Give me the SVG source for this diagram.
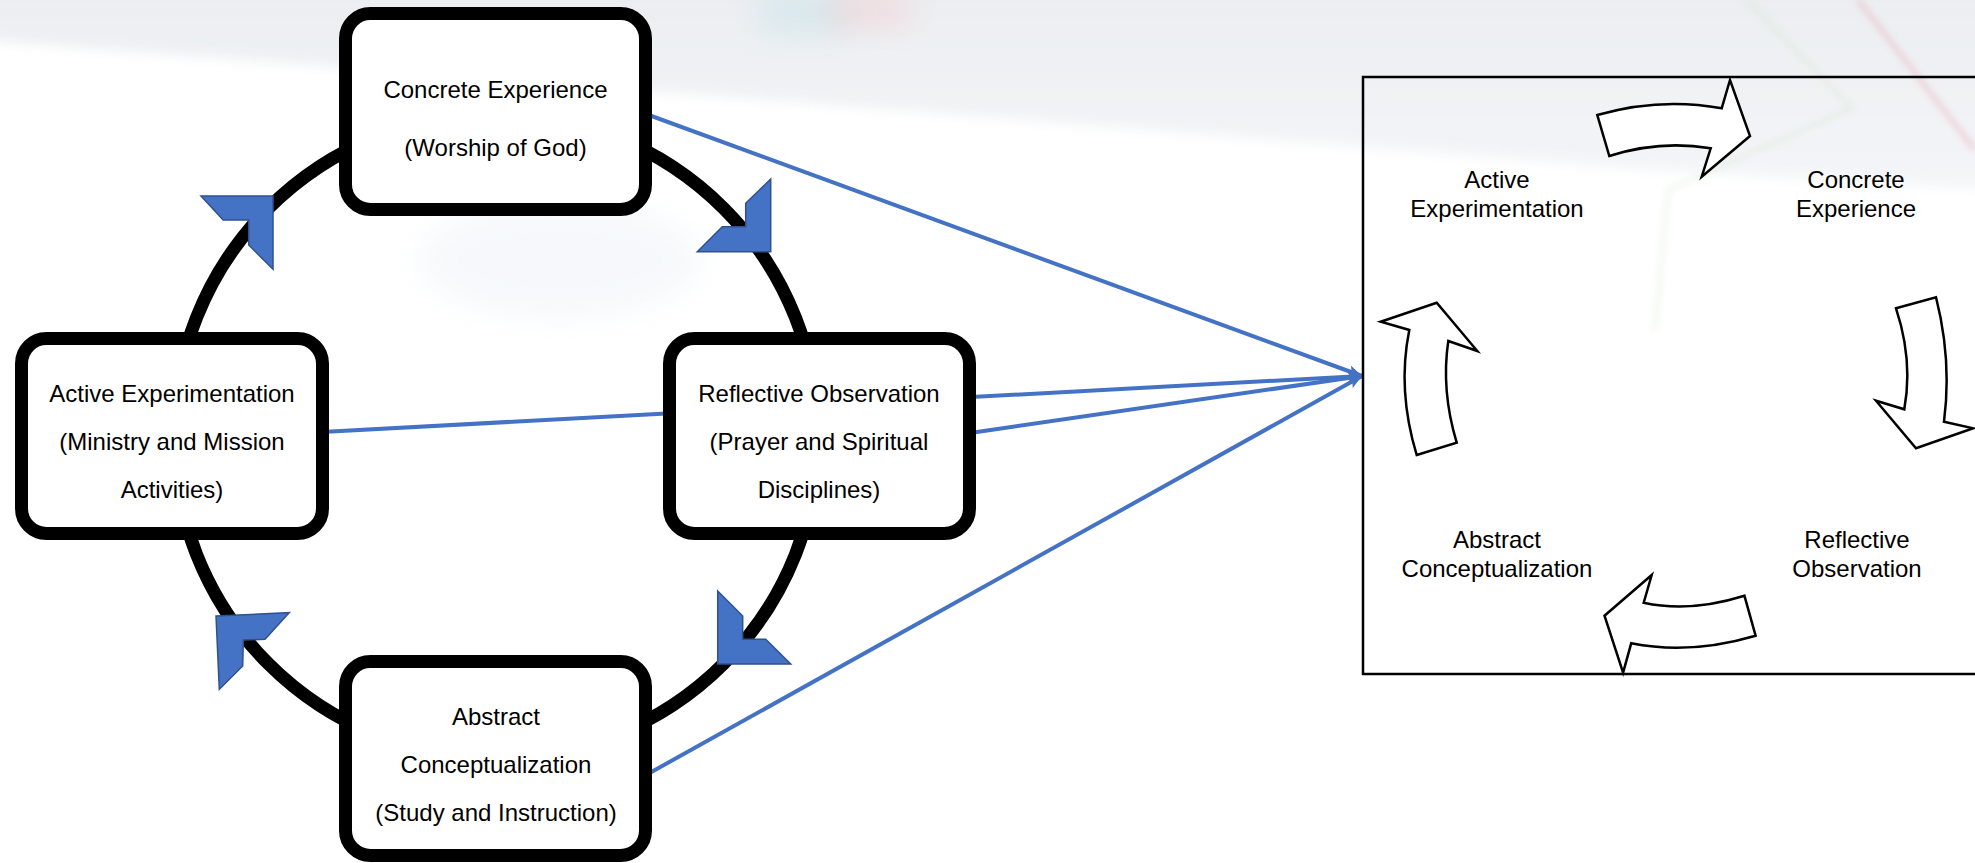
<svg xmlns="http://www.w3.org/2000/svg" width="1975" height="863" viewBox="0 0 1975 863">
  <defs>
    <style>
      .box { fill: #ffffff; stroke: #000000; stroke-width: 13; }
      .lbl { font-family: "Liberation Sans", Arial, sans-serif; font-size: 24px; fill: #000000; text-anchor: middle; }
      .ring { fill: none; stroke: #000000; stroke-width: 13; }
      .chev { fill: #4472C4; stroke: #2F528F; stroke-width: 1.5; stroke-linejoin: miter; }
      .conn { fill: none; stroke: #4472C4; stroke-width: 4; marker-end: url(#ah); }
      .blk { fill: #ffffff; stroke: #000000; stroke-width: 2.5; stroke-linejoin: miter; }
    </style>
    <marker id="ah" markerWidth="14" markerHeight="12" refX="14" refY="6" orient="auto" markerUnits="userSpaceOnUse">
      <path d="M0,0 L14,6 L0,12 L3,6 Z" fill="#4472C4"/>
    </marker>
    <linearGradient id="topg" x1="0" y1="0" x2="0" y2="1">
      <stop offset="0" stop-color="#e4e7ec"/>
      <stop offset="1" stop-color="#f1f3f6"/>
    </linearGradient>
    <filter id="blur" x="-50%" y="-50%" width="200%" height="200%">
      <feGaussianBlur stdDeviation="14"/>
    </filter>
    <filter id="soft" x="-10%" y="-50%" width="120%" height="200%">
      <feGaussianBlur stdDeviation="6"/>
    </filter>
    <filter id="blur2" x="-50%" y="-50%" width="200%" height="200%">
      <feGaussianBlur stdDeviation="3"/>
    </filter>
  </defs>

  <!-- background -->
  <g id="background">
    <rect x="0" y="0" width="1975" height="863" fill="#ffffff"/>
    <polygon points="-20,-20 1995,-20 1995,190 1620,168 1000,118 -20,40" fill="url(#topg)" opacity="0.75" filter="url(#soft)"/>
    <rect x="760" y="-10" width="90" height="45" fill="#bfe0e6" opacity="0.4" filter="url(#blur)"/>
    <rect x="830" y="-10" width="80" height="40" fill="#f2c9cc" opacity="0.4" filter="url(#blur)"/>
    <polyline points="1746,0 1852,108 1668,190 1655,330" fill="none" stroke="#c4dfb6" stroke-width="5" opacity="0.22" filter="url(#blur2)"/>
    <polyline points="1858,0 1975,150" fill="none" stroke="#e4a0ae" stroke-width="5" opacity="0.4" filter="url(#blur2)"/>
    <ellipse cx="560" cy="260" rx="140" ry="60" fill="#eef3f8" opacity="0.5" filter="url(#blur)"/>
  </g>

  <!-- cycle ring -->
  <g id="ring">
    <circle class="ring" cx="496" cy="436" r="322"/>
  </g>

  <!-- connectors -->
  <g id="connectors">
    <line class="conn" x1="646" y1="114" x2="1362" y2="376"/>
    <line class="conn" x1="322" y1="432" x2="1362" y2="376"/>
    <line class="conn" x1="970" y1="433" x2="1362" y2="376"/>
    <line class="conn" x1="646" y1="775" x2="1362" y2="376"/>
  </g>

  <g id="node-concrete-experience">
    <rect class="box" x="345.5" y="13.5" width="300" height="196" rx="25"/>
    <text class="lbl" x="495.5" y="98">Concrete Experience</text>
    <text class="lbl" x="495.5" y="156">(Worship of God)</text>
  </g>

  <g id="node-active-experimentation">
    <rect class="box" x="21.5" y="338.5" width="301" height="195" rx="25"/>
    <text class="lbl" x="172" y="402">Active Experimentation</text>
    <text class="lbl" x="172" y="450">(Ministry and Mission</text>
    <text class="lbl" x="172" y="498">Activities)</text>
  </g>

  <g id="node-reflective-observation">
    <rect class="box" x="669.5" y="338.5" width="300" height="195" rx="25"/>
    <text class="lbl" x="819" y="402">Reflective Observation</text>
    <text class="lbl" x="819" y="450">(Prayer and Spiritual</text>
    <text class="lbl" x="819" y="498">Disciplines)</text>
  </g>

  <g id="node-abstract-conceptualization">
    <rect class="box" x="345.5" y="661.5" width="300" height="194" rx="25"/>
    <text class="lbl" x="496" y="725">Abstract</text>
    <text class="lbl" x="496" y="773">Conceptualization</text>
    <text class="lbl" x="496" y="821">(Study and Instruction)</text>
  </g>

  <g id="chevrons">
    <polygon class="chev" points="770.7,179 770.7,251.7 697.3,251.7 722.3,226.7 745.7,226.7 745.7,203.3"/>
    <polygon class="chev" points="201,196 273,196 273,269.3 248.7,245 248.7,220 223.2,220"/>
    <polygon class="chev" points="717.7,591 717.7,664 790.7,664 765.7,639.3 742.7,639.3 742.7,616"/>
    <polygon class="chev" points="216,616 289.3,612.7 265,639.3 243.3,640 242.7,666 219.3,689.3"/>
  </g>

  <!-- Kolb cycle panel -->
  <g id="kolb-panel">
    <rect x="1363" y="77" width="660" height="597" fill="none" stroke="#000000" stroke-width="2.5"/>
    <text class="lbl" x="1497" y="188">Active</text>
    <text class="lbl" x="1497" y="217">Experimentation</text>
    <text class="lbl" x="1856" y="188">Concrete</text>
    <text class="lbl" x="1856" y="217">Experience</text>
    <text class="lbl" x="1497" y="548">Abstract</text>
    <text class="lbl" x="1497" y="577">Conceptualization</text>
    <text class="lbl" x="1857" y="548">Reflective</text>
    <text class="lbl" x="1857" y="577">Observation</text>
    <path class="blk" d="M1597.3,115 Q1660,97 1721.7,108.3 L1730,80 L1750,136 L1701.7,176.7 L1710.7,148.3 Q1660,139.8 1609.3,156 Z"/>
    <path class="blk" d="M1896,308.3 L1936,297.3 Q1952,360 1944,421.7 L1973.3,428.3 L1916,448.3 L1876,400.7 L1904.3,409.3 Q1913.2,360 1896,308.3 Z"/>
    <path class="blk" d="M1744.4,595.7 L1755.6,635.7 Q1690,655.1 1631.2,643.3 L1623.1,672.7 L1604.5,615.7 L1651.7,575 L1643.7,602.7 Q1690,612.8 1744.4,595.7 Z"/>
    <path class="blk" d="M1416.7,455 L1456.7,442.7 Q1440.9,390 1448.3,341 L1477.3,351 L1436.7,302.7 L1380.7,321.7 L1409.3,330 Q1397,390 1416.7,455 Z"/>
  </g>
</svg>
